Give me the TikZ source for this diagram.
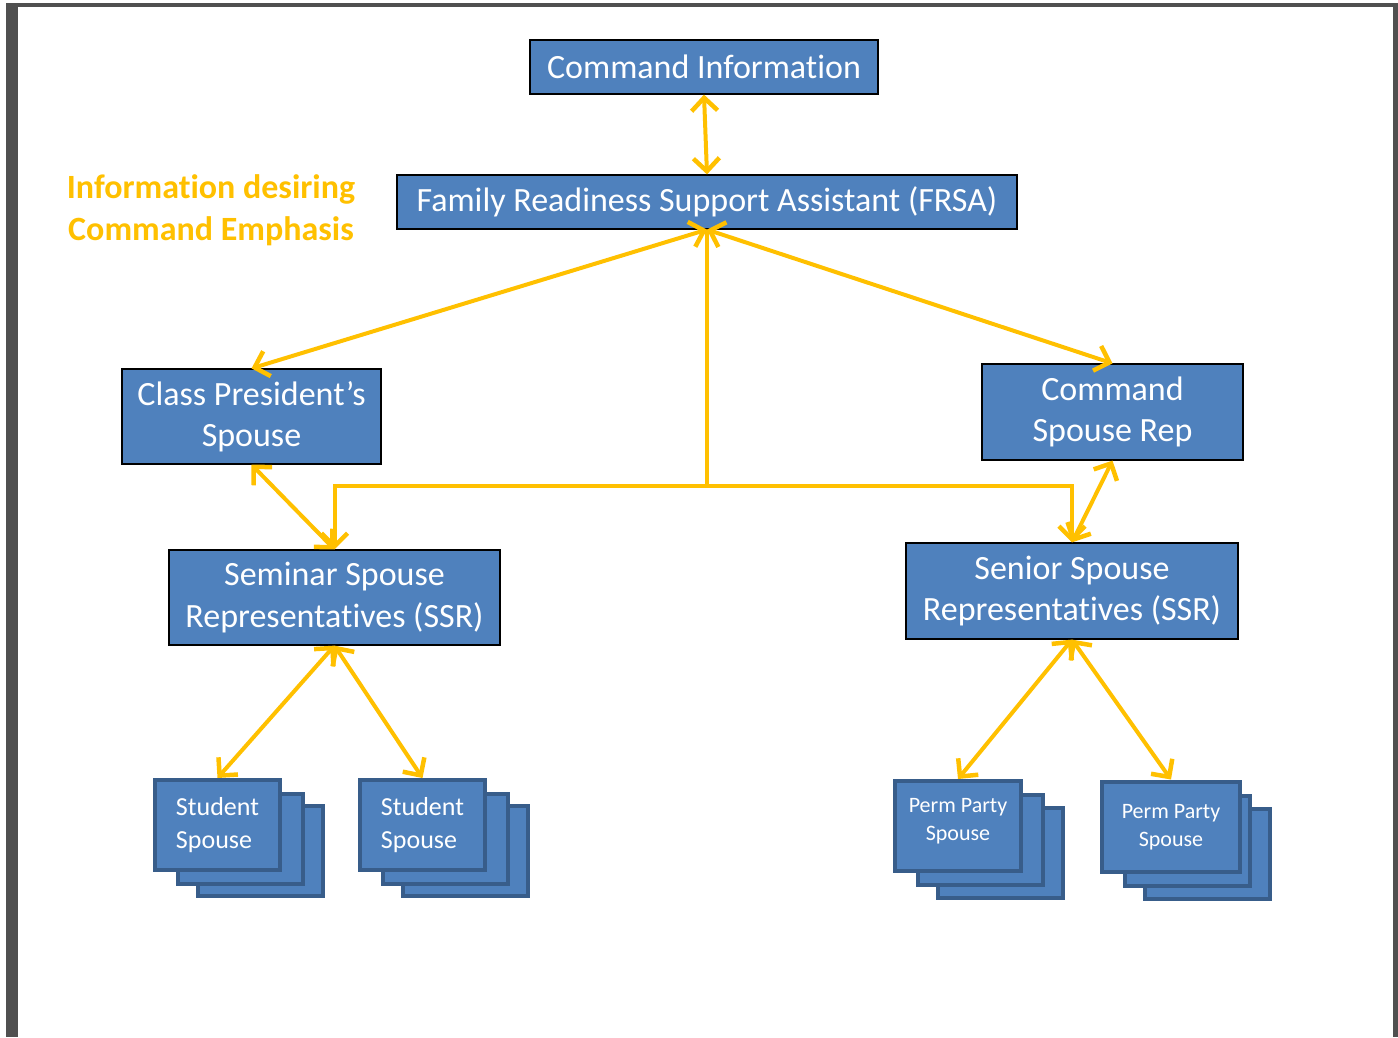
\documentclass[tikz,border=0pt]{standalone}
\usepackage{fontspec}
\setmainfont{Carlito}[Ligatures=NoCommon, RawFeature={-calt;-clig;-liga}]
\usetikzlibrary{arrows.meta}
\definecolor{boxblue}{HTML}{4F81BD}
\definecolor{cardedge}{HTML}{385D8A}
\definecolor{linkorange}{HTML}{FFC000}
\definecolor{framegray}{HTML}{505050}

\tikzset{%
  every box/.style={
    rectangle,
    draw=black,
    line width=1.2pt,
    fill=boxblue,
    text=white,
    align=center,
    inner sep=0pt,
    font=\fontsize{34}{41.5}\selectfont
  },
  every card/.style={
    rectangle,
    draw=cardedge,
    line width=4pt,
    fill=boxblue,
    text=white,
    inner sep=0pt,
    minimum height=90pt
  },
  link/.style={
    draw=linkorange,
    line width=4pt
  },
}

\begin{document}
\begin{tikzpicture}[x=1pt, y=-1pt, >={Straight Barb[length=13pt,width=26pt,line width=4.5pt]}]
    \useasboundingbox (0,0) rectangle (1398,1037);
    \fill [framegray] (6,3) rectangle (18,1037);
    \fill [framegray] (6,3) rectangle (1398,7);
    \fill [framegray] (1393,3) rectangle (1398,1037);

        \node [every box, minimum width=348pt, minimum height=54pt] (cmd-info) at (704,67) {Command Information};
        \node [every box, minimum width=620pt, minimum height=54pt] (frsa) at (707,202) {Family Readiness Support Assistant (FRSA)};
        \node [every box, minimum width=259pt, minimum height=95pt] (class-pres) at (251.5,416.5) {Class President’s\\Spouse};
        \node [every box, minimum width=261pt, minimum height=96pt] (cmd-rep) at (1112.5,412) {Command\\Spouse Rep};
        \node [every box, minimum width=331pt, minimum height=95pt] (seminar-ssr) at (334.5,597.5) {Seminar Spouse\\Representatives (SSR)};
        \node [every box, minimum width=332pt, minimum height=96pt] (senior-ssr) at (1072,591) {Senior Spouse\\Representatives (SSR)};
        \node [align=center, text=linkorange, font=\bfseries\fontsize{34}{41.5}\selectfont] (emphasis) at (211,210) {Information desiring\\Command Emphasis};

        \foreach \n/\x/\y in {student-1/217.5/824, student-2/422.5/824}
          {
          \foreach \k/\dx/\dy in {3/43/27, 2/23/15}
            \node [every card, minimum width=125pt] (\n-\k) at (\x+\dx,\y+\dy) {};
          \node [every card, minimum width=125pt, align=left, font=\fontsize{26}{33}\selectfont] (\n) at (\x,\y+1) {Student\\Spouse};
          }
        \foreach \n/\x/\y/\w/\t in {perm-1/958/826/126/-5, perm-2/1171/826.5/138/1}
          {
          \foreach \k/\dx/\dy in {3/43/27, 2/23/14}
            \node [every card, minimum width=125pt] (\n-\k) at (\x-\w/2+62.5+\dx,\y+\dy) {};
          \node [every card, minimum width=\w pt] (\n) at (\x,\y) {};
          \node [align=center, text=white, font=\fontsize{22}{28}\selectfont] (\n-text) at (\x,\y+\t) {Perm Party\\Spouse};
          }

        \coordinate (hub) at (707,486);
        \draw [link, <->] (cmd-info.south) -- (frsa.north);
        \draw [link, <->] (frsa.south) -- (class-pres.north);
        \draw [link, <->] (frsa.south) -- (cmd-rep.north);
        \draw [link, ->] (frsa.south) -- (hub) -| (seminar-ssr.north);
        \draw [link, ->] (hub) -| (senior-ssr.north);
        \draw [link, <->] (class-pres.south) -- (seminar-ssr.north);
        \draw [link, <->] (cmd-rep.south) -- (senior-ssr.north);
        \foreach \j in {1,2}
          \draw [link, <->] (seminar-ssr.south) -- (student-\j.north);
        \foreach \j in {1,2}
          \draw [link, <->] (senior-ssr.south) -- (perm-\j.north);
\end{tikzpicture}
\end{document}
